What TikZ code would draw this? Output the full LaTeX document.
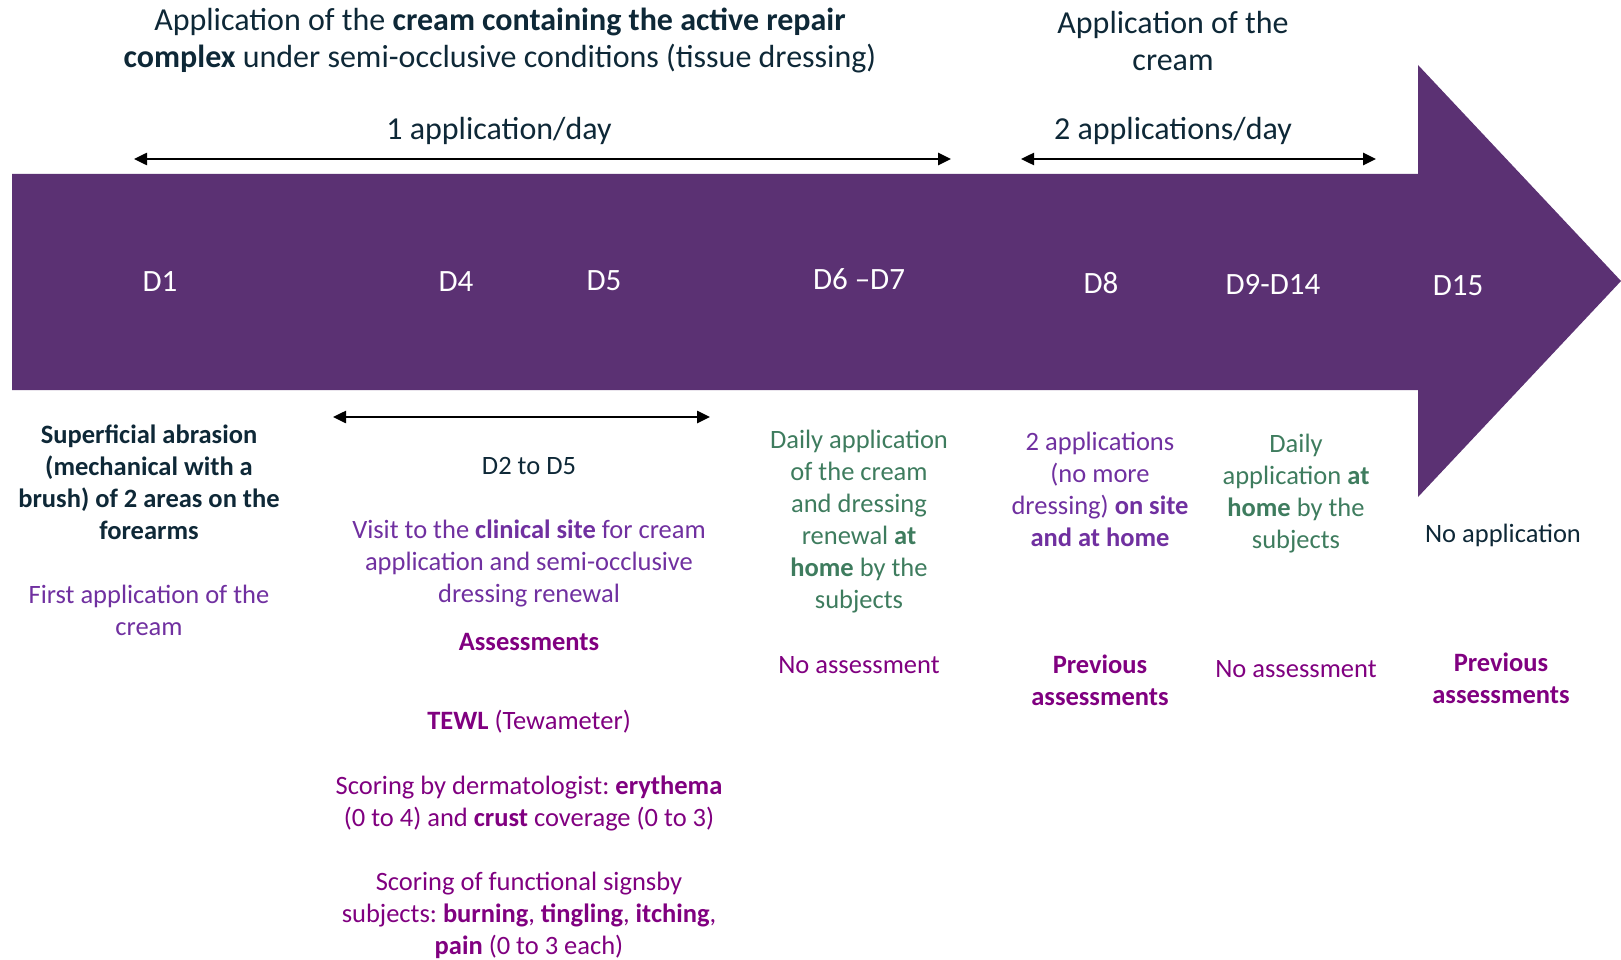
\documentclass[tikz,border=0pt]{standalone}
\usepackage{fontspec}
\setmainfont{Carlito}
\usetikzlibrary{arrows.meta}
\frenchspacing
\definecolor{arrowpurple}{RGB}{91,49,115}
\definecolor{darktext}{RGB}{14,40,55}
\definecolor{lightpurple}{RGB}{112,48,160}
\definecolor{boldpurple}{RGB}{128,0,128}
\definecolor{greentext}{RGB}{62,124,94}
\newcommand\bigfs{\fontsize{32}{37}\selectfont}
\newcommand\dayfs{\fontsize{31}{37}\selectfont}
\newcommand\bodyfs{\fontsize{26.5}{32}\selectfont}
\tikzset{
  txt/.style={inner sep=0pt, align=center, font=\bodyfs},
  bigtxt/.style={inner sep=0pt, align=center, font=\bigfs, text=darktext},
  daylabel/.style={inner sep=0pt, font=\dayfs, text=white},
  dbl/.style={{Triangle[length=13pt,width=12pt]}-{Triangle[length=13pt,width=12pt]}, line width=2.5pt, black},
}
\begin{document}
\begin{tikzpicture}[x=1pt,y=-1pt]
\useasboundingbox (0,0) rectangle (1621,960);
% big arrow
\fill[arrowpurple] (12,174) -- (1418,174) -- (1418,65) -- (1621,281) -- (1418,497) -- (1418,390) -- (12,390) -- cycle;

% titles
\node[bigtxt] (title1) at (500,41) {Application of the \textbf{cream containing the active repair}\\ \textbf{complex} under semi-occlusive conditions (tissue dressing)};
\node[bigtxt] (title2) at (1173,41) {Application of the\\ cream};
\node[bigtxt] (rate1) at (499,131) {1 application/day};
\node[bigtxt] (rate2) at (1173,131) {2 applications/day};

% double arrows
\coordinate (a1l) at (134,159);
\coordinate (a1r) at (951,159);
\coordinate (a2l) at (1021,159);
\coordinate (a2r) at (1376,159);
\coordinate (a3l) at (333,417);
\coordinate (a3r) at (710,417);
\draw[dbl] (a1l) -- (a1r);
\draw[dbl] (a2l) -- (a2r);
\draw[dbl] (a3l) -- (a3r);

% day labels
\node[daylabel] (d1) at (160,282) {D1};
\node[daylabel] (d4) at (456,282) {D4};
\node[daylabel] (d5) at (604,281) {D5};
\node[daylabel] (d67) at (859,279) {D6 –D7};
\node[daylabel] (d8) at (1101,283) {D8};
\node[daylabel] (d914) at (1273,284) {D9-D14};
\node[daylabel] (d15) at (1458,286) {D15};

% D1 column
\node[txt, text=darktext, font=\bodyfs\bfseries] (abr) at (149,482) {Superficial abrasion\\ (mechanical with a\\ brush) of 2 areas on the\\ forearms};
\node[txt, text=lightpurple] (first) at (149,610) {First application of the\\ cream};

% D2-D5 column
\node[txt, text=darktext] (d25) at (529,466) {D2 to D5};
\node[txt, text=lightpurple] (visit) at (529,563) {Visit to the \textbf{clinical site} for cream\\ application and semi-occlusive\\ dressing renewal};
\node[txt, text=boldpurple, font=\bodyfs\bfseries] (assess) at (529,642) {Assessments};
\node[txt, text=boldpurple] (tewl) at (529,722) {\textbf{TEWL} (Tewameter)};
\node[txt, text=boldpurple] (derm) at (529,803) {Scoring by dermatologist: \textbf{erythema}\\ (0 to 4) and \textbf{crust} coverage (0 to 3)};
\node[txt, text=boldpurple] (func) at (529,915) {Scoring of functional signsby\\ subjects: \textbf{burning}, \textbf{tingling}, \textbf{itching},\\ \textbf{pain} (0 to 3 each)};

% D6-D7 column
\node[txt, text=greentext] (daily67) at (859,522) {Daily application\\ of the cream\\ and dressing\\ renewal \textbf{at}\\ \textbf{home} by the\\ subjects};
\node[txt, text=boldpurple] (noas67) at (859,665) {No assessment};

% D8 column
\node[txt, text=lightpurple] (two8) at (1100,489) {2 applications\\ (no more\\ dressing) \textbf{on site}\\ \textbf{and at home}};
\node[txt, text=boldpurple, font=\bodyfs\bfseries] (prev8) at (1100,680) {Previous\\ assessments};

% D9-D14 column
\node[txt, text=greentext] (daily914) at (1296,494) {Daily\\ application \textbf{at}\\ \textbf{home} by the\\ subjects};
\node[txt, text=boldpurple] (noas914) at (1296,669) {No assessment};

% D15 column
\node[txt, text=darktext] (noapp) at (1503,535) {No application};
\node[txt, text=boldpurple, font=\bodyfs\bfseries] (prev15) at (1501,678) {Previous\\ assessments};
\end{tikzpicture}
\end{document}
